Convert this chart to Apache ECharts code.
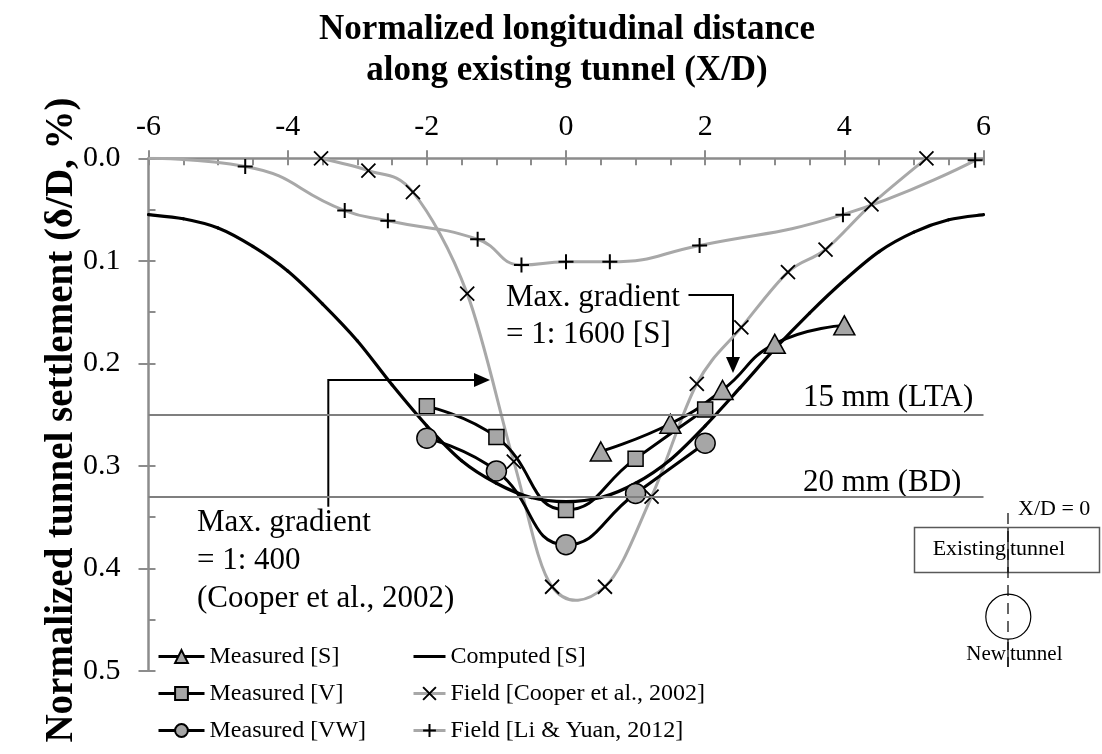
<!DOCTYPE html>
<html>
<head>
<meta charset="utf-8">
<script src="https://cdn.jsdelivr.net/npm/echarts@6/dist/echarts.min.js"></script>
<style>
  html, body { margin: 0; padding: 0; background: #fff; }
  #main { width: 1102px; height: 754px; }
</style>
</head>
<body>
<div id="main"></div>
<script>
// values: X/D and settlement (delta/D, %)
var computedX = [-6, -5.5, -5, -4.5, -4, -3.5, -3, -2.5, -2, -1.5, -1, -0.5, 0, 0.5, 1, 1.5, 2, 2.5, 3, 3.5, 4, 4.5, 5, 5.5, 6];
var computedY = [0.055, 0.059, 0.068, 0.086, 0.110, 0.142, 0.178, 0.221, 0.261, 0.295, 0.317, 0.331, 0.335, 0.331, 0.317, 0.294, 0.261, 0.224, 0.186, 0.151, 0.119, 0.091, 0.072, 0.060, 0.055];

var measSX = [0.5, 1.5, 2.25, 3.0, 4.0];
var measSY = [0.286, 0.259, 0.226, 0.181, 0.163];

var measVX = [-2, -1, 0, 1, 2];
var measVY = [0.242, 0.272, 0.343, 0.293, 0.245];

var measVWX = [-2, -1, 0, 1, 2];
var measVWY = [0.273, 0.305, 0.377, 0.327, 0.278];

var cooperX = [-3.52, -2.84, -2.2, -1.42, -0.75, -0.2, 0.56, 1.23, 1.88, 2.52, 3.19, 3.73, 4.39, 5.18];
var cooperY = [0, 0.012, 0.033, 0.132, 0.296, 0.418, 0.418, 0.330, 0.220, 0.165, 0.111, 0.089, 0.045, 0];

var liX = [-6, -4.61, -3.18, -2.56, -1.27, -0.64, 0, 0.63, 1.92, 3.98, 5.88];
var liY = [0, 0.008, 0.051, 0.061, 0.079, 0.104, 0.101, 0.101, 0.085, 0.055, 0.002];

var limitNames = ['15 mm (LTA)', '20 mm (BD)'];
var limitValues = [0.25, 1 / 3];

var xTicks = [-6, -4, -2, 0, 2, 4, 6];
var yTicks = [0.0, 0.1, 0.2, 0.3, 0.4, 0.5];

var serif = "'Liberation Serif', 'Times New Roman', serif";
var axisGray = '#8c8c8c';
var lineGray = '#a8a8a8';
var markGray = '#a6a6a6';

function pairs(xs, ys) {
  return xs.map(function (x, i) { return [x, ys[i]]; });
}

var crossPath = 'path://M0,0L10,10M10,0L0,10';
var plusPath = 'path://M5,0L5,10M0,5L10,5';
var dashIcon = 'path://M0,0L32,0L32,3L0,3Z';

// excel-like smoothing (catmull-rom through the points), drawn in pixel space
function splineRender(xs, ys, color, width) {
  return function (params, api) {
    var p = xs.map(function (x, i) { return api.coord([x, ys[i]]); });
    var kids = [];
    for (var i = 0; i < p.length - 1; i++) {
      var p0 = p[Math.max(i - 1, 0)], p1 = p[i], p2 = p[i + 1], p3 = p[Math.min(i + 2, p.length - 1)];
      kids.push({
        type: 'bezierCurve',
        shape: {
          x1: p1[0], y1: p1[1], x2: p2[0], y2: p2[1],
          cpx1: p1[0] + (p2[0] - p0[0]) / 6, cpy1: p1[1] + (p2[1] - p0[1]) / 6,
          cpx2: p2[0] - (p3[0] - p1[0]) / 6, cpy2: p2[1] - (p3[1] - p1[1]) / 6
        },
        style: { stroke: color, lineWidth: width, fill: null, lineCap: 'round' }
      });
    }
    return { type: 'group', children: kids };
  };
}

var chart = echarts.init(document.getElementById('main'), null, { renderer: 'canvas' });

var gridRect = { left: 148.5, right: 118.5, top: 158.3, bottom: 83.2 };

var option = {
  animation: false,
  backgroundColor: '#fff',
  grid: [
    Object.assign({}, gridRect),
    Object.assign({}, gridRect)
  ],
  xAxis: [
    {
      type: 'value', gridIndex: 0, position: 'top',
      min: xTicks[0], max: xTicks[xTicks.length - 1], interval: 2,
      axisLine: { onZero: false, lineStyle: { color: axisGray, width: 2.5 } },
      axisTick: { length: 8, lineStyle: { color: axisGray, width: 2 } },
      axisLabel: { margin: 16, fontSize: 30, color: '#000', fontFamily: serif },
      splitLine: { show: false }
    },
    {
      type: 'value', gridIndex: 1, position: 'top',
      min: xTicks[0], max: xTicks[xTicks.length - 1], interval: 2,
      axisLine: { show: false, onZero: false },
      axisTick: { inside: true, length: 7, lineStyle: { color: axisGray, width: 2 } },
      minorTick: { show: true, splitNumber: 4, length: 7, lineStyle: { color: axisGray, width: 2 } },
      axisLabel: { show: false },
      splitLine: { show: false }
    }
  ],
  yAxis: [
    {
      type: 'value', gridIndex: 0, inverse: true, position: 'left',
      min: yTicks[0], max: yTicks[yTicks.length - 1], interval: 0.1,
      axisLine: { onZero: false, lineStyle: { color: axisGray, width: 2.5 } },
      axisTick: { length: 10, lineStyle: { color: axisGray, width: 2 } },
      axisLabel: {
        margin: 28, fontSize: 30, color: '#000', fontFamily: serif,
        formatter: function (v) { return v.toFixed(1); }
      },
      splitLine: { show: false }
    },
    {
      type: 'value', gridIndex: 1, inverse: true, position: 'left',
      min: yTicks[0], max: yTicks[yTicks.length - 1], interval: 0.1,
      axisLine: { show: false, onZero: false },
      axisTick: { inside: true, length: 7, lineStyle: { color: axisGray, width: 2 } },
      minorTick: { show: true, splitNumber: 2, length: 7, lineStyle: { color: axisGray, width: 2 } },
      axisLabel: { show: false },
      splitLine: { show: false }
    }
  ],
  legend: [
    {
      left: 157, top: 643, orient: 'vertical', padding: 0,
      itemWidth: 46, itemHeight: 16, itemGap: 10,
      textStyle: { fontSize: 24, lineHeight: 27, color: '#000', fontFamily: serif },
      lineStyle: { width: 3 },
      data: ['Measured [S]', 'Measured [V]', 'Measured [VW]']
    },
    {
      left: 412, top: 643, orient: 'vertical', padding: 0,
      itemWidth: 32, itemHeight: 16, itemGap: 10,
      textStyle: { fontSize: 24, lineHeight: 27, color: '#000', fontFamily: serif },
      lineStyle: { opacity: 1, width: 3 },
      data: [
        { name: 'Computed [S]', icon: dashIcon, itemStyle: { color: '#000' } },
        'Field [Cooper et al., 2002]',
        'Field [Li & Yuan, 2012]'
      ]
    }
  ],
  series: [
    {
      name: 'Field [Li & Yuan, 2012]', type: 'line', smooth: 0.5,
      data: pairs(liX, liY).map(function (p, i) {
        return i === 0 ? { value: p, symbol: 'none' } : p;
      }),
      symbol: plusPath, symbolSize: 15,
      lineStyle: { color: lineGray, width: 3 },
      itemStyle: { color: '#000', borderColor: '#000', borderWidth: 2 },
      markLine: {
        silent: true, symbol: 'none', label: { show: false },
        lineStyle: { color: '#7f7f7f', width: 2, type: 'solid' },
        data: limitValues.map(function (v, i) { return { name: limitNames[i], yAxis: v }; })
      },
      z: 2
    },
    {
      name: 'cooperCurve', type: 'custom', xAxisIndex: 0, yAxisIndex: 0,
      data: [[cooperX[0], cooperY[0]]],
      renderItem: splineRender(cooperX, cooperY, lineGray, 3),
      silent: true, z: 2
    },
    {
      name: 'Field [Cooper et al., 2002]', type: 'line', smooth: 0.5,
      data: pairs(cooperX, cooperY),
      symbol: crossPath, symbolSize: 14,
      lineStyle: { color: lineGray, width: 3, opacity: 0 },
      itemStyle: { color: '#000', borderColor: '#000', borderWidth: 1.8 },
      z: 3
    },
    {
      name: 'computedCurve', type: 'custom', xAxisIndex: 0, yAxisIndex: 0,
      data: [[computedX[0], computedY[0]]],
      renderItem: splineRender(computedX, computedY, '#000', 3.2),
      silent: true, z: 3
    },
    {
      name: 'Computed [S]', type: 'line',
      data: pairs(computedX, computedY),
      showSymbol: false, symbol: 'none',
      lineStyle: { color: '#000', width: 3, opacity: 0 },
      itemStyle: { color: '#000' },
      z: 3
    },
    {
      name: 'Measured [S]', type: 'line', smooth: 0.5,
      data: pairs(measSX, measSY),
      symbol: 'triangle', symbolSize: [21, 19],
      lineStyle: { color: '#000', width: 3 },
      itemStyle: { color: markGray, borderColor: '#000', borderWidth: 1.5 },
      z: 4
    },
    {
      name: 'Measured [V]', type: 'line', smooth: 0.5,
      data: pairs(measVX, measVY),
      symbol: 'rect', symbolSize: 15,
      lineStyle: { color: '#000', width: 3 },
      itemStyle: { color: markGray, borderColor: '#000', borderWidth: 1.5 },
      z: 4
    },
    {
      name: 'Measured [VW]', type: 'line', smooth: 0.5,
      data: pairs(measVWX, measVWY),
      symbol: 'circle', symbolSize: 20,
      lineStyle: { color: '#000', width: 3 },
      itemStyle: { color: markGray, borderColor: '#000', borderWidth: 1.5 },
      z: 4
    }
  ]
};

chart.setOption(option);

// annotations placed from data coordinates
function px(x, y) { return chart.convertToPixel({ gridIndex: 0 }, [x, y]); }

var g1a = px(1.76, 0.1334), g1b = px(2.40, 0.1334), g1tip = px(2.40, 0.2095);
var g2a = px(-3.416, 0.340), g2b = px(-3.416, 0.2163), g2tip = px(-1.092, 0.2163);
var lta = px(6, limitValues[0]), bd = px(6, limitValues[1]);

function txt(x, y, text, size, extra) {
  return {
    type: 'text', x: x, y: y, silent: true,
    style: Object.assign({
      text: text, font: size + 'px ' + serif, fill: '#000',
      align: 'left', verticalAlign: 'middle'
    }, extra || {})
  };
}

var graphics = [
  // title
  txt(567, 30, 'Normalized longitudinal distance', 35, { font: 'bold 35px ' + serif, align: 'center' }),
  txt(567, 71, 'along existing tunnel (X/D)', 35, { font: 'bold 35px ' + serif, align: 'center' }),
  // y axis name
  {
    type: 'text', x: 62, y: 420, rotation: Math.PI / 2, silent: true,
    style: { text: 'Normalized tunnel settlement (\u03b4/D, %)', font: 'bold 39px ' + serif, fill: '#000', align: 'center', verticalAlign: 'middle' }
  },
  // limit labels
  txt(803, lta[1] - 17, limitNames[0], 31),
  txt(803, bd[1] - 17, limitNames[1], 31),
  // gradient 1:1600
  txt(506, 298, 'Max. gradient', 31),
  txt(506, 335, '= 1: 1600 [S]', 31),
  {
    type: 'polyline', silent: true,
    shape: { points: [g1a, g1b, [g1tip[0], g1tip[1] - 14]] },
    style: { stroke: '#000', lineWidth: 2, fill: null }
  },
  {
    type: 'polygon', silent: true,
    shape: { points: [[g1tip[0] - 7, g1tip[1] - 16], [g1tip[0] + 7, g1tip[1] - 16], g1tip] },
    style: { fill: '#000' }
  },
  // gradient 1:400
  txt(197, 523, 'Max. gradient', 31),
  txt(197, 561, '= 1: 400', 31),
  txt(197, 599, '(Cooper et al., 2002)', 31),
  {
    type: 'polyline', silent: true,
    shape: { points: [g2a, g2b, [g2tip[0] - 14, g2tip[1]]] },
    style: { stroke: '#000', lineWidth: 2, fill: null }
  },
  {
    type: 'polygon', silent: true,
    shape: { points: [[g2tip[0] - 16, g2tip[1] - 7], [g2tip[0] - 16, g2tip[1] + 7], g2tip] },
    style: { fill: '#000' }
  },
  // inset sketch of the tunnels
  {
    type: 'rect', silent: true,
    shape: { x: 914.5, y: 527.5, width: 185, height: 45 },
    style: { stroke: '#595959', lineWidth: 1.5, fill: '#fff' }
  },
  {
    type: 'line', silent: true,
    shape: { x1: 1008, y1: 513, x2: 1008, y2: 667 },
    style: { stroke: '#000', lineWidth: 1.2, lineDash: [11, 7] }
  },
  {
    type: 'line', silent: true,
    shape: { x1: 1008, y1: 528, x2: 1008, y2: 572 },
    style: { stroke: '#000', lineWidth: 1.2 }
  },
  {
    type: 'line', silent: true,
    shape: { x1: 1008, y1: 642, x2: 1008, y2: 667 },
    style: { stroke: '#000', lineWidth: 1.2 }
  },
  {
    type: 'circle', silent: true,
    shape: { cx: 1008.3, cy: 616.7, r: 22.5 },
    style: { stroke: '#000', lineWidth: 1.2, fill: null }
  },
  txt(1018, 509, 'X/D = 0', 22),
  txt(1006, 549, 'Existing', 22, { align: 'right' }),
  txt(1010, 549, 'tunnel', 22),
  txt(1006, 654, 'New', 21, { align: 'right' }),
  txt(1010, 654, 'tunnel', 21)
];

chart.setOption({ graphic: graphics });
</script>
</body>
</html>
